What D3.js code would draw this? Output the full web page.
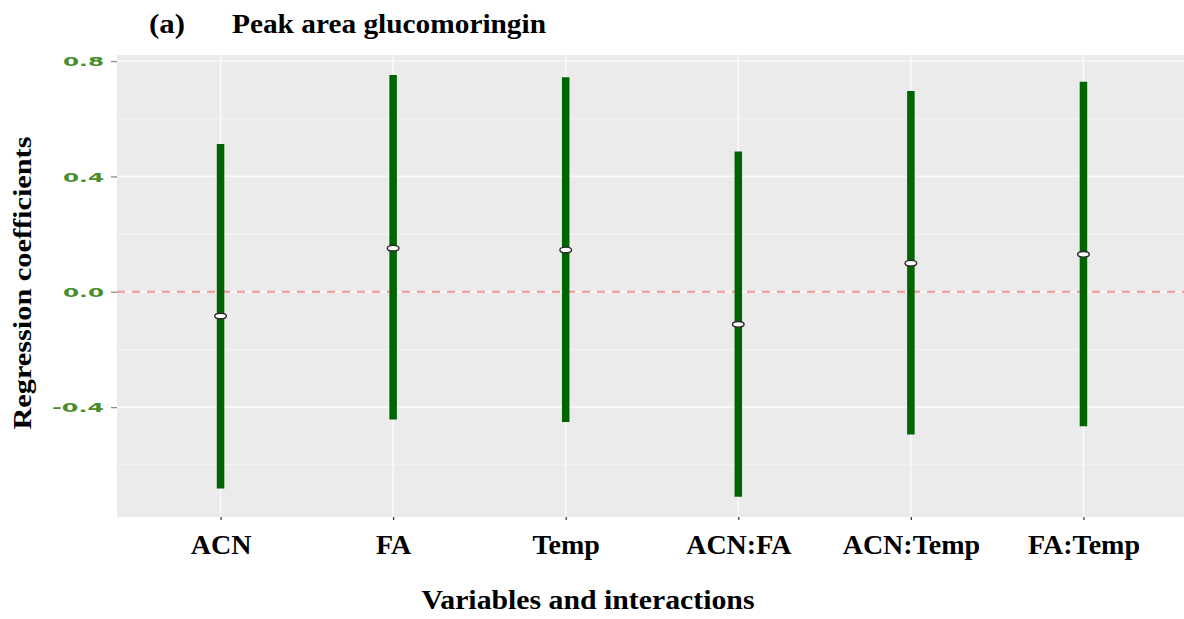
<!DOCTYPE html>
<html>
<head>
<meta charset="utf-8">
<script src="https://cdn.jsdelivr.net/npm/d3@7"></script>
<style>
  html, body { margin: 0; padding: 0; background: #fff; }
  svg { display: block; }
</style>
</head>
<body>
<svg id="chart" width="1184" height="619"></svg>
<script>
// Regression coefficients with confidence intervals per term
const terms = ["ACN", "FA", "Temp", "ACN:FA", "ACN:Temp", "FA:Temp"];
const estimate = [-0.084, 0.151, 0.145, -0.113, 0.099, 0.130];
const lower = [-0.682, -0.443, -0.452, -0.711, -0.495, -0.466];
const upper = [0.512, 0.752, 0.744, 0.486, 0.696, 0.728];
const yTicks = [-0.4, 0.0, 0.4, 0.8];
const yMinor = [-0.6, -0.2, 0.2, 0.6];

const rows = terms.map((t, i) => ({ term: t, est: estimate[i], lo: lower[i], hi: upper[i] }));

const svg = d3.select("#chart");
const panel = { left: 117, right: 1187, top: 55, bottom: 517 };
const serif = "'Liberation Serif', 'Times New Roman', serif";

const x = d3.scalePoint().domain(terms)
  .range([panel.left, panel.right]).padding(0.6);
const y = d3.scaleLinear().domain([-0.781, 0.821]).range([panel.bottom, panel.top]);

// panel background
svg.append("rect")
  .attr("x", panel.left).attr("y", panel.top)
  .attr("width", panel.right - panel.left).attr("height", panel.bottom - panel.top)
  .attr("fill", "#ebebeb");

const grid = svg.append("g");
grid.selectAll("line.minor").data(yMinor).join("line")
  .attr("x1", panel.left).attr("x2", panel.right)
  .attr("y1", d => y(d)).attr("y2", d => y(d))
  .attr("stroke", "#f6f6f6").attr("stroke-width", 1);
grid.selectAll("line.major").data(yTicks).join("line")
  .attr("x1", panel.left).attr("x2", panel.right)
  .attr("y1", d => y(d)).attr("y2", d => y(d))
  .attr("stroke", "#fafafa").attr("stroke-width", 1.6);
grid.selectAll("line.vx").data(terms).join("line")
  .attr("x1", d => x(d)).attr("x2", d => x(d))
  .attr("y1", panel.top).attr("y2", panel.bottom)
  .attr("stroke", "#fafafa").attr("stroke-width", 1.6);

// zero reference line
svg.append("line")
  .attr("x1", panel.left).attr("x2", panel.right)
  .attr("y1", y(0)).attr("y2", y(0))
  .attr("stroke", "#f29595").attr("stroke-width", 1.8)
  .attr("stroke-dasharray", "8,7");

// interval bars
svg.append("g").selectAll("line").data(rows).join("line")
  .attr("x1", d => x(d.term)).attr("x2", d => x(d.term))
  .attr("y1", d => y(d.lo)).attr("y2", d => y(d.hi))
  .attr("stroke", "#006400").attr("stroke-width", 7.5);

// point estimates
svg.append("g").selectAll("ellipse").data(rows).join("ellipse")
  .attr("cx", d => x(d.term)).attr("cy", d => y(d.est))
  .attr("rx", 5.8).attr("ry", 2.8)
  .attr("fill", "#ffffff").attr("stroke", "#2a2a2a").attr("stroke-width", 1.4);

// y axis (plain hyphen for negatives)
const fmt = d => d3.format(".1f")(d).replace("\u2212", "-");
const yAxis = svg.append("g")
  .attr("transform", `translate(${panel.left},0)`)
  .call(d3.axisLeft(y).tickValues(yTicks).tickSize(6).tickPadding(7).tickFormat(fmt));
yAxis.select(".domain").remove();
yAxis.selectAll(".tick line").attr("stroke", "#8c8c8c").attr("stroke-width", 1.3);
yAxis.selectAll(".tick text")
  .attr("fill", "#4a8d2c")
  .attr("dy", "0.36em")
  .attr("textLength", d => d < 0 ? 52 : 41)
  .attr("lengthAdjust", "spacingAndGlyphs")
  .style("font-family", "'DejaVu Sans', Verdana, sans-serif")
  .style("font-size", "13px")
  .style("font-weight", "bold");

// x axis
const xAxis = svg.append("g")
  .attr("transform", `translate(0,${panel.bottom})`)
  .call(d3.axisBottom(x).tickSize(3).tickPadding(14));
xAxis.select(".domain").remove();
xAxis.selectAll(".tick line").attr("stroke", "#333").attr("stroke-width", 1.2);
xAxis.selectAll(".tick text")
  .attr("fill", "#000")
  .style("font-family", serif)
  .style("font-size", "28px")
  .style("font-weight", "bold");

// axis titles
svg.append("text")
  .attr("x", 588).attr("y", 609)
  .attr("text-anchor", "middle")
  .attr("textLength", 333).attr("lengthAdjust", "spacingAndGlyphs")
  .style("font-family", serif)
  .style("font-size", "28px").style("font-weight", "bold")
  .text("Variables and interactions");

svg.append("text")
  .attr("transform", `translate(31,283) rotate(-90)`)
  .attr("text-anchor", "middle")
  .attr("textLength", 293).attr("lengthAdjust", "spacingAndGlyphs")
  .style("font-family", serif)
  .style("font-size", "26px").style("font-weight", "bold")
  .text("Regression coefficients");

// title
const title = svg.append("g")
  .style("font-family", serif)
  .style("font-size", "27px").style("font-weight", "bold");
title.append("text").attr("x", 149).attr("y", 33)
  .attr("textLength", 36).attr("lengthAdjust", "spacingAndGlyphs").text("(a)");
title.append("text").attr("x", 232).attr("y", 33)
  .attr("textLength", 314).attr("lengthAdjust", "spacingAndGlyphs").text("Peak area glucomoringin");
</script>
</body>
</html>
